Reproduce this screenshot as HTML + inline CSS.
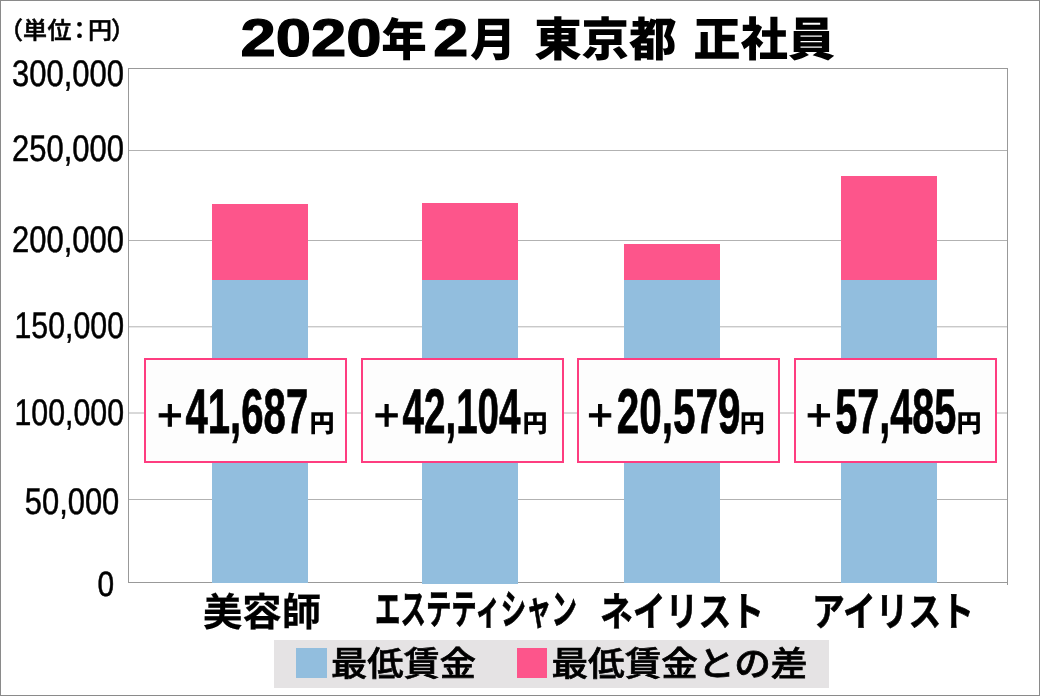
<!DOCTYPE html>
<html lang="ja">
<head>
<meta charset="utf-8">
<title>2020年2月 東京都 正社員</title>
<style>
html,body{margin:0;padding:0;background:#fff;}
body{width:1040px;height:696px;overflow:hidden;}
svg{display:block;}
.num{font-family:"Liberation Sans","Noto Sans CJK JP",sans-serif;}
.jp{font-family:"Noto Sans CJK JP","Liberation Sans",sans-serif;}
</style>
</head>
<body>
<svg width="1040" height="696" viewBox="0 0 1040 696" shape-rendering="crispEdges" text-rendering="geometricPrecision">
<rect x="0" y="0" width="1040" height="696" fill="#fff"/>
<!-- outer border -->
<rect x="0.5" y="0.5" width="1039" height="695" fill="none" stroke="#8a8a8a" stroke-width="1"/>

<!-- gridlines -->
<g stroke="#b2b2b2" stroke-width="1" shape-rendering="auto">
<line x1="129" y1="150.5" x2="1007" y2="150.5"/>
<line x1="129" y1="240.5" x2="1007" y2="240.5"/>
<line x1="129" y1="326.8" x2="1007" y2="326.8"/>
<line x1="129" y1="413" x2="1007" y2="413"/>
<line x1="129" y1="499.5" x2="1007" y2="499.5"/>
</g>
<!-- plot frame -->
<g stroke="#999" stroke-width="1" fill="none">
<line x1="128" y1="68.5" x2="1008" y2="68.5"/>
<line x1="128.5" y1="68" x2="128.5" y2="583"/>
<line x1="1007.5" y1="68" x2="1007.5" y2="585"/>
<line x1="128" y1="582.5" x2="1008" y2="582.5"/>
</g>

<!-- bars -->
<g>
<rect x="212" y="280" width="96" height="303" fill="#92bede"/>
<rect x="212" y="204" width="96" height="76" fill="#fd558b"/>
<rect x="422" y="280" width="96" height="304" fill="#92bede"/>
<rect x="422" y="203" width="96" height="77" fill="#fd558b"/>
<rect x="624" y="280" width="96" height="303" fill="#92bede"/>
<rect x="624" y="244" width="96" height="36" fill="#fd558b"/>
<rect x="841" y="280" width="96" height="303" fill="#92bede"/>
<rect x="841" y="176" width="96" height="104" fill="#fd558b"/>
</g>

<!-- title -->
<g class="jp" font-weight="900" fill="#000">
<text class="num" x="240.5" y="55.5" font-size="53" font-weight="700" stroke="#000" stroke-width="1.2" textLength="141" lengthAdjust="spacingAndGlyphs">2020</text>
<text x="381.3" y="56" font-size="45.5">年</text>
<text class="num" x="433.3" y="55.5" font-size="53" font-weight="700" stroke="#000" stroke-width="1.2" textLength="35" lengthAdjust="spacingAndGlyphs">2</text>
<text x="470" y="56" font-size="46">月</text>
<text x="534.2" y="56.4" font-size="46.5" textLength="142.3" lengthAdjust="spacingAndGlyphs">東京都</text>
<text x="693.2" y="56.4" font-size="46.5" textLength="142" lengthAdjust="spacingAndGlyphs">正社員</text>
</g>

<!-- unit -->
<text class="jp" x="-1 23 47.5 67.5 88 111" y="39" font-size="24" font-weight="500" fill="#000" stroke="#000" stroke-width="0.55">（単位：円）</text>

<!-- y-axis labels -->
<g class="num" font-size="37" fill="#000" stroke="#000" stroke-width="0.5" text-anchor="end">
<text x="124" y="86" textLength="112" lengthAdjust="spacingAndGlyphs">300,000</text>
<text x="124" y="161.4" textLength="112" lengthAdjust="spacingAndGlyphs">250,000</text>
<text x="124" y="252" textLength="112" lengthAdjust="spacingAndGlyphs">200,000</text>
<text x="124" y="338.2" textLength="109.5" lengthAdjust="spacingAndGlyphs">150,000</text>
<text x="124" y="425.3" textLength="109.5" lengthAdjust="spacingAndGlyphs">100,000</text>
<text x="119.3" y="514.3" textLength="94.5" lengthAdjust="spacingAndGlyphs">50,000</text>
<text x="114.2" y="596" font-size="35" textLength="16.6" lengthAdjust="spacingAndGlyphs">0</text>
</g>

<!-- value boxes -->
<g fill="#fdfdfd" stroke="#fe3d80" stroke-width="2">
<rect x="145" y="359" width="201" height="103"/>
<rect x="362" y="359" width="201" height="103"/>
<rect x="578" y="359" width="201" height="103"/>
<rect x="795" y="359" width="201" height="103"/>
</g>
<g class="num" font-weight="700" fill="#000">
<text x="156.9" y="429.5" font-size="44" font-weight="400" stroke="#000" stroke-width="1">+</text>
<text x="185.5" y="432.5" font-size="63" stroke="#000" stroke-width="0.8" textLength="122.7" lengthAdjust="spacingAndGlyphs">41,687</text>
<text class="jp" x="309.6" y="431.5" font-size="25" font-weight="900">円</text>

<text x="373.8" y="429.5" font-size="44" font-weight="400" stroke="#000" stroke-width="1">+</text>
<text x="402.5" y="432.5" font-size="63" stroke="#000" stroke-width="0.8" textLength="118" lengthAdjust="spacingAndGlyphs">42,104</text>
<text class="jp" x="522.4" y="431.5" font-size="25" font-weight="900">円</text>

<text x="587.2" y="429.5" font-size="44" font-weight="400" stroke="#000" stroke-width="1">+</text>
<text x="616.7" y="432.5" font-size="63" stroke="#000" stroke-width="0.8" textLength="123.7" lengthAdjust="spacingAndGlyphs">20,579</text>
<text class="jp" x="739.8" y="431.5" font-size="25" font-weight="900">円</text>

<text x="806" y="429.5" font-size="44" font-weight="400" stroke="#000" stroke-width="1">+</text>
<text x="835.2" y="432.5" font-size="63" stroke="#000" stroke-width="0.8" textLength="121.2" lengthAdjust="spacingAndGlyphs">57,485</text>
<text class="jp" x="956.5" y="431.5" font-size="25" font-weight="900">円</text>

</g>

<!-- category labels -->
<g class="jp" font-weight="700" fill="#000" stroke="#000" stroke-width="0.25" font-size="39">
<text x="203" y="625.7" textLength="118" lengthAdjust="spacingAndGlyphs">美容師</text>
<text x="375" y="624.4" font-size="41" stroke-width="0.7" textLength="202" lengthAdjust="spacingAndGlyphs">エステティシャン</text>
<text x="600" y="625.5" font-size="40" stroke-width="0.6" textLength="164" lengthAdjust="spacingAndGlyphs">ネイリスト</text>
<text x="812" y="625.5" font-size="40" stroke-width="0.6" textLength="162" lengthAdjust="spacingAndGlyphs">アイリスト</text>
</g>

<!-- legend -->
<rect x="274" y="640" width="554.5" height="48" fill="#e5e3e4"/>
<rect x="296" y="648" width="30.5" height="30" fill="#92bede"/>
<rect x="517" y="648" width="30" height="30" fill="#fd558b"/>
<g class="jp" font-weight="500" fill="#000" stroke="#000" stroke-width="0.7" font-size="34.5">
<text x="331" y="676" textLength="145" lengthAdjust="spacingAndGlyphs">最低賃金</text>
<text x="551.5" y="676" textLength="256" lengthAdjust="spacingAndGlyphs">最低賃金との差</text>
</g>
</svg>
</body>
</html>
